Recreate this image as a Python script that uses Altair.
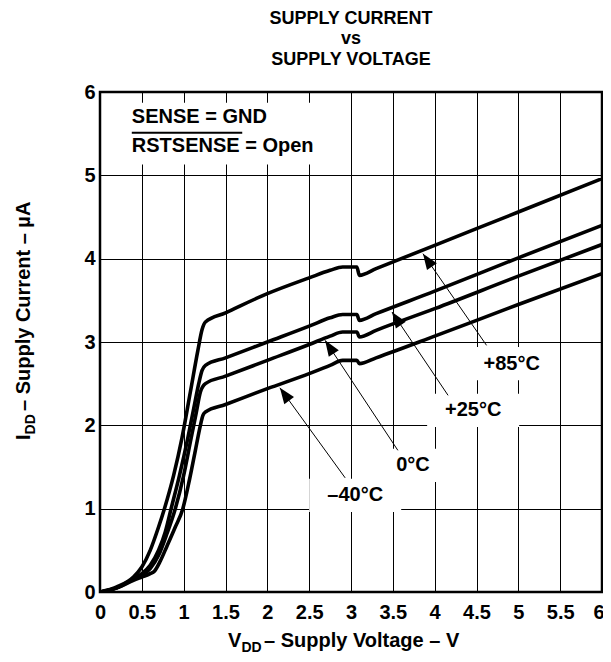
import math
import altair as alt
import pandas as pd

# ---- data ----
SERIES = ["+85°C", "+25°C", "0°C", "–40°C"]

V_85 = [0, 0.2, 0.4, 0.5, 0.6, 0.7, 0.77, 0.88, 0.98, 1.08, 1.17, 1.22, 1.26, 1.5, 2.0, 2.5, 2.75, 2.9, 3.07, 3.1, 3.3, 4.0, 5.0, 6.0]
I_85 = [0, 0.06, 0.18, 0.30, 0.50, 0.78, 1.0, 1.40, 1.85, 2.40, 2.90, 3.15, 3.24, 3.35, 3.58, 3.77, 3.86, 3.90, 3.90, 3.80, 3.88, 4.16, 4.56, 4.96]

V_25 = [0, 0.2, 0.4, 0.5, 0.6, 0.7, 0.78, 0.85, 0.95, 1.05, 1.12, 1.18, 1.22, 1.26, 1.5, 2.0, 2.5, 2.75, 2.9, 3.07, 3.1, 3.3, 4.0, 5.0, 6.0]
I_25 = [0, 0.05, 0.16, 0.22, 0.32, 0.50, 0.72, 1.0, 1.40, 1.85, 2.20, 2.50, 2.66, 2.72, 2.81, 3.00, 3.19, 3.29, 3.33, 3.33, 3.26, 3.34, 3.61, 4.01, 4.40]

V_0 = [0, 0.2, 0.4, 0.5, 0.6, 0.7, 0.8, 0.9, 1.0, 1.08, 1.15, 1.2, 1.26, 1.5, 2.0, 2.5, 2.75, 2.9, 3.07, 3.1, 3.3, 4.0, 5.0, 6.0]
I_0 = [0, 0.05, 0.15, 0.20, 0.28, 0.44, 0.70, 1.0, 1.40, 1.80, 2.15, 2.40, 2.50, 2.59, 2.78, 2.97, 3.07, 3.12, 3.12, 3.06, 3.14, 3.40, 3.79, 4.17]

V_M40 = [0, 0.2, 0.4, 0.5, 0.6, 0.65, 0.72, 0.8, 0.9, 0.99, 1.07, 1.14, 1.2, 1.23, 1.26, 1.5, 2.0, 2.5, 2.75, 2.9, 3.07, 3.1, 3.3, 4.0, 5.0, 6.0]
I_M40 = [0, 0.05, 0.14, 0.18, 0.22, 0.25, 0.37, 0.55, 0.78, 1.0, 1.35, 1.70, 2.00, 2.12, 2.16, 2.25, 2.44, 2.62, 2.72, 2.78, 2.78, 2.74, 2.81, 3.07, 3.45, 3.82]

X_TICKS = [0, 0.5, 1, 1.5, 2, 2.5, 3, 3.5, 4, 4.5, 5, 5.5, 6]
Y_TICKS = [0, 1, 2, 3, 4, 5, 6]

# annotation arrows: tip on the curve, tail near label
ARROW_TIP_X = [3.86, 3.49, 2.69, 2.15]
ARROW_TIP_Y = [4.06, 3.36, 3.02, 2.45]
ARROW_TAIL_X = [4.62, 4.16, 3.56, 2.93]
ARROW_TAIL_Y = [2.96, 2.36, 1.70, 1.37]
LABEL_X = [4.92, 4.46, 3.74, 3.05]
LABEL_Y = [2.74, 2.18, 1.52, 1.16]
LABEL_HALF_W = [0.55, 0.55, 0.40, 0.55]
LABEL_HALF_H = [0.20, 0.20, 0.20, 0.20]

NOTE_LINES = ["SENSE = GND", "RSTSENSE = Open"]
NOTE_X = [0.38, 0.38]
NOTE_Y = [5.63, 5.28]

W, H = 502, 500
FONT = "Liberation Sans"

rows = []
for name, vs, cs in zip(SERIES, [V_85, V_25, V_0, V_M40], [I_85, I_25, I_0, I_M40]):
    for k, (v, c) in enumerate(zip(vs, cs)):
        rows.append({"series": name, "v": v, "i": c, "k": k})
curves = pd.DataFrame(rows)

xs = alt.Scale(domain=[0, 6], nice=False, zero=False)
ys = alt.Scale(domain=[0, 6], nice=False, zero=False)

xaxis = alt.Axis(values=X_TICKS, format="~g", title=None, grid=True, ticks=False,
                 domain=False, labelPadding=10, labelFlush=False, labelOverlap=False,
                 labelAlign={"expr": "datum.value == 6 ? 'right' : 'center'"},
                 labelOffset={"expr": "datum.value == 6 ? 2 : 0"})
yaxis = alt.Axis(values=Y_TICKS, format="~g", title=None, grid=True, ticks=False,
                 domain=False, labelPadding=5, labelFlush=False)

px_x = W / 6.0
px_y = H / 6.0
angles = []
for tx, ty, hx, hy in zip(ARROW_TAIL_X, ARROW_TAIL_Y, ARROW_TIP_X, ARROW_TIP_Y):
    dx = (hx - tx) * px_x
    dy_up = (hy - ty) * px_y
    angles.append(math.degrees(math.atan2(dx, dy_up)) % 360)

ann = pd.DataFrame({
    "label": SERIES,
    "tipx": ARROW_TIP_X, "tipy": ARROW_TIP_Y,
    "tailx": ARROW_TAIL_X, "taily": ARROW_TAIL_Y,
    "lx": LABEL_X, "ly": LABEL_Y,
    "bx1": [a - b for a, b in zip(LABEL_X, LABEL_HALF_W)],
    "bx2": [a + b for a, b in zip(LABEL_X, LABEL_HALF_W)],
    "by1": [a - b for a, b in zip(LABEL_Y, LABEL_HALF_H)],
    "by2": [a + b for a, b in zip(LABEL_Y, LABEL_HALF_H)],
    "angle": angles,
})

box_legend = pd.DataFrame({"x1": [0.2], "x2": [2.62], "y1": [5.13], "y2": [5.87]})
notes = pd.DataFrame({"t": NOTE_LINES, "x": NOTE_X, "y": NOTE_Y})
overline = pd.DataFrame({"x1": [0.38], "x2": [1.70], "y": [5.51]})

def X(f, **kw):
    return alt.X(f, scale=xs, axis=xaxis, **kw)

def Y(f, **kw):
    return alt.Y(f, scale=ys, axis=yaxis, **kw)

white_boxes = alt.Chart(ann).mark_rect(color="white").encode(
    x=X("bx1:Q"), x2="bx2:Q", y=Y("by1:Q"), y2="by2:Q")
legend_box = alt.Chart(box_legend).mark_rect(color="white").encode(
    x=X("x1:Q"), x2="x2:Q", y=Y("y1:Q"), y2="y2:Q")

lines = alt.Chart(curves).mark_line(color="black", strokeWidth=3.6, interpolate="monotone",
                                    strokeJoin="round", clip=True).encode(
    x=X("v:Q"), y=Y("i:Q"), detail="series:N", order="k:Q")

arrows = alt.Chart(ann).mark_rule(color="black", strokeWidth=1).encode(
    x=X("tailx:Q"), y=Y("taily:Q"), x2="tipx:Q", y2="tipy:Q")

heads = alt.Chart(ann).mark_point(
    shape="M0,0L-0.38,1L0.38,1Z", filled=True, color="black", opacity=1, size=1000, strokeWidth=0
).encode(x=X("tipx:Q"), y=Y("tipy:Q"), angle=alt.Angle("angle:Q", scale=None))

labels = alt.Chart(ann).mark_text(font=FONT, fontSize=20, fontWeight="bold", color="black",
                                  baseline="middle").encode(
    x=X("lx:Q"), y=Y("ly:Q"), text="label:N")

note_text = alt.Chart(notes).mark_text(font=FONT, fontSize=20, fontWeight="bold", color="black",
                                       align="left", baseline="alphabetic").encode(
    x=X("x:Q"), y=Y("y:Q"), text="t:N")
note_bar = alt.Chart(overline).mark_rule(color="black", strokeWidth=2).encode(
    x=X("x1:Q"), x2="x2:Q", y=Y("y:Q"))

one = pd.DataFrame({"a": [0]})

def txt(s, x, y, size=20, align="left", angle=0):
    kw = dict(text=s, font=FONT, fontSize=size, fontWeight="bold", color="black",
              align=align, baseline="alphabetic")
    if angle:
        kw["angle"] = angle
    return alt.Chart(one).mark_text(**kw).encode(x=alt.value(x), y=alt.value(y))

title_layers = [
    txt("SUPPLY CURRENT", 251, -68, 18, "center"),
    txt("vs", 251, -48, 18, "center"),
    txt("SUPPLY VOLTAGE", 251, -27, 18, "center"),
]
xtitle = [
    txt("V", 128, 555),
    txt("DD", 141.5, 560, 14),
    txt(" – Supply Voltage – V", 164, 555),
]
ytitle = [
    txt("I", -70, 348, 20, "left", 270),
    txt("DD", -65, 342.4, 14, "left", 270),
    txt(" – Supply Current – µA", -70, 319, 20, "left", 270),
]

chart = alt.layer(
    legend_box, white_boxes, lines, arrows, heads, labels, note_text, note_bar,
    *title_layers, *xtitle, *ytitle
).properties(
    width=W, height=H,
    autosize=alt.AutoSizeParams(type="none"),
    padding={"left": 92, "top": 84, "right": 1, "bottom": 62},
).configure_view(
    stroke="black", strokeWidth=2.5
).configure_axis(
    gridColor="black", gridWidth=1, gridOpacity=1,
    labelFont=FONT, labelFontSize=20, labelFontWeight="bold", labelColor="black",
)

chart.save("out.html", embed_options={"renderer": "svg", "actions": False})
